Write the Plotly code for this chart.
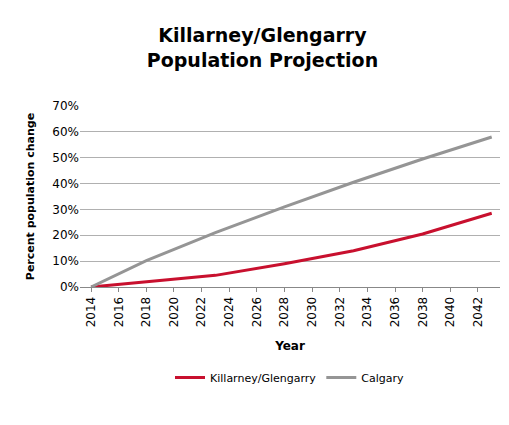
import plotly.graph_objects as go

years = [2014, 2018, 2023, 2028, 2033, 2038, 2043]
killarney = [0, 2.0, 4.5, 9.0, 14.0, 20.5, 28.5]
calgary = [0, 10.2, 21.0, 31.0, 40.5, 49.5, 58.0]
tick_years = list(range(2014, 2043, 2))

fig = go.Figure()
fig.add_trace(go.Scatter(x=years, y=killarney, mode="lines", name="Killarney/Glengarry",
                         line=dict(color="#c8102e", width=3)))
fig.add_trace(go.Scatter(x=years, y=calgary, mode="lines", name="Calgary",
                         line=dict(color="#959595", width=3)))
fig.update_layout(
    width=509, height=425, paper_bgcolor="white", plot_bgcolor="white",
    font=dict(family="DejaVu Sans", color="black", size=12),
    title=dict(text="<b>Killarney/Glengarry<br>Population Projection</b>", x=0.5, y=0.905,
               xanchor="center", font=dict(size=19, family="DejaVu Sans")),
    margin=dict(l=80, r=17, t=105, b=139),
    legend=dict(orientation="h", x=0.5, xanchor="center", y=-0.42, yanchor="top",
                font=dict(size=11)),
    xaxis=dict(range=[2013.2, 2043.6], tickvals=tick_years, tickangle=-90,
               title=dict(text="<b>Year</b>", font=dict(size=12)), showgrid=False,
               showline=True, linecolor="#888", ticks="outside", ticklen=4, tickcolor="#888"),
    yaxis=dict(range=[0, 70], dtick=10, ticksuffix="%", showgrid=True, gridcolor="#b0b0b0",
               title=dict(text="<b>Percent population change</b>", font=dict(size=11)),
               showline=False, zeroline=False),
)
fig.update_layout(margin=dict(l=72, r=17, t=98, b=146), title_y=0.92)
fig.write_html("out.html")
